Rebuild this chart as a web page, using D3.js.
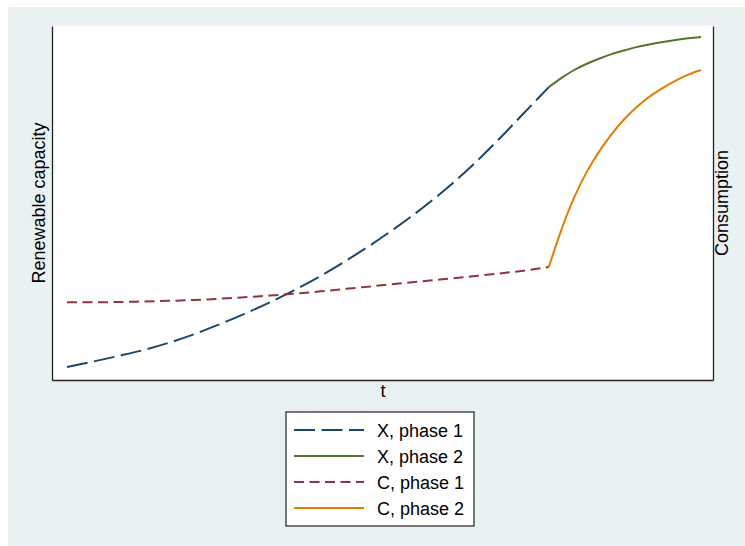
<!DOCTYPE html>
<html>
<head>
<meta charset="utf-8">
<script src="https://cdn.jsdelivr.net/npm/d3@7"></script>
<style>
  html, body { margin: 0; padding: 0; background: #ffffff; }
  svg { display: block; font-family: "Liberation Sans", Arial, Helvetica, sans-serif; }
</style>
</head>
<body>
<svg id="chart" width="745" height="546"></svg>
<script>
// ---- Data ----
const tPhase1 = [0, 4, 8, 12, 16, 20, 24, 28, 32, 36, 40, 44, 48, 52, 56, 60, 64, 68, 72, 76];
const xPhase1 = [0, 1.6, 3.3, 5.1, 7.3, 9.9, 12.9, 16.1, 19.6, 23.4, 27.6, 32.2, 37.1, 42.4, 48.1, 54.3, 61.2, 68.8, 76.8, 84.8];
const cPhase1 = [19.6, 19.6, 19.68, 19.84, 20.04, 20.32, 20.68, 21.12, 21.64, 22.24, 22.92, 23.68, 24.44, 25.2, 25.96, 26.72, 27.5, 28.3, 29.2, 30.3];

const tPhase2 = [76, 78, 80, 82, 84, 86, 88, 90, 92, 94, 96, 98, 100];
const xPhase2 = [84.8, 87.6, 90.0, 91.9, 93.5, 94.9, 96.0, 97.0, 97.8, 98.5, 99.1, 99.6, 100];
const cPhase2 = [30.3, 41.7, 51.4, 59.2, 65.5, 70.8, 75.3, 79.0, 82.1, 84.6, 86.8, 88.6, 90.0];

const seriesNames = ["X, phase 1", "X, phase 2", "C, phase 1", "C, phase 2"];
const xTitle = "t";
const yLeftTitle = "Renewable capacity";
const yRightTitle = "Consumption";

// ---- Layout ----
const W = 745, H = 546;
const plot = { left: 52, right: 713, top: 26, bottom: 380 };
const padX = { l: 15, r: 12 };
const padY = { t: 11, b: 13 };

const svg = d3.select("#chart");

// Graph region background
svg.append("rect").attr("x", 8).attr("y", 7).attr("width", W - 8).attr("height", H - 7)
  .attr("fill", "#eaf1f3");

// Plot region
svg.append("rect").attr("x", plot.left).attr("y", plot.top)
  .attr("width", plot.right - plot.left).attr("height", plot.bottom - plot.top)
  .attr("fill", "#ffffff");

// Scales
const x = d3.scaleLinear().domain([0, 100]).range([plot.left + padX.l, plot.right - padX.r]);
const yL = d3.scaleLinear().domain([0, 100]).range([plot.bottom - padY.b, plot.top + padY.t]);
const yR = d3.scaleLinear().domain([0, 100]).range([plot.bottom - padY.b, plot.top + padY.t]);

// Axis lines (no ticks / labels, like the reference)
const yFull = d3.scaleLinear().range([plot.bottom, plot.top]);
const xFull = d3.scaleLinear().range([plot.left, plot.right]);

svg.append("g").attr("transform", `translate(${plot.left},0)`)
  .call(d3.axisLeft(yFull).tickValues([]).tickSizeOuter(0))
  .select(".domain").attr("stroke", "#222").attr("stroke-width", 1.3);
svg.append("g").attr("transform", `translate(${plot.right},0)`)
  .call(d3.axisRight(yFull).tickValues([]).tickSizeOuter(0))
  .select(".domain").attr("stroke", "#222").attr("stroke-width", 1.3);
svg.append("g").attr("transform", `translate(0,${plot.bottom})`)
  .call(d3.axisBottom(xFull).tickValues([]).tickSizeOuter(0))
  .select(".domain").attr("stroke", "#222").attr("stroke-width", 1.3);

// Series
const styles = [
  { color: "#1a476f", dash: "21,6.5", t: tPhase1, v: xPhase1, y: yL },
  { color: "#55752f", dash: null,     t: tPhase2, v: xPhase2, y: yL },
  { color: "#90353b", dash: "10,5.5", t: tPhase1, v: cPhase1, y: yR },
  { color: "#e37e00", dash: null,     t: tPhase2, v: cPhase2, y: yR }
];

styles.forEach(s => {
  const pts = s.t.map((t, i) => [t, s.v[i]]);
  const line = d3.line().x(d => x(d[0])).y(d => s.y(d[1])).curve(d3.curveMonotoneX);
  svg.append("path").datum(pts)
    .attr("d", line)
    .attr("fill", "none")
    .attr("stroke", s.color)
    .attr("stroke-width", 2)
    .attr("stroke-linejoin", "round")
    .attr("stroke-dasharray", s.dash);
});

// Axis titles
svg.append("text").attr("x", (plot.left + plot.right) / 2 + 0.5).attr("y", 397)
  .attr("text-anchor", "middle").attr("font-size", 18).attr("fill", "#000").text(xTitle);
svg.append("text").attr("transform", `translate(45,${(plot.top + plot.bottom) / 2}) rotate(-90)`)
  .attr("text-anchor", "middle").attr("font-size", 18).attr("fill", "#000").text(yLeftTitle);
svg.append("text").attr("transform", `translate(728,${(plot.top + plot.bottom) / 2}) rotate(-90)`)
  .attr("text-anchor", "middle").attr("font-size", 18).attr("fill", "#000").text(yRightTitle);

// Legend
const leg = svg.append("g");
leg.append("rect").attr("x", 286).attr("y", 412).attr("width", 188).attr("height", 114)
  .attr("fill", "#ffffff").attr("stroke", "#222").attr("stroke-width", 1.2);
const rowY = d3.scalePoint().domain(seriesNames).range([430, 508]);
seriesNames.forEach((name, i) => {
  const yy = rowY(name);
  leg.append("line").attr("x1", 294).attr("x2", 364).attr("y1", yy).attr("y2", yy)
    .attr("stroke", styles[i].color).attr("stroke-width", 2)
    .attr("stroke-dasharray", styles[i].dash);
  leg.append("text").attr("x", 377).attr("y", yy + 6.5)
    .attr("font-size", 18).attr("fill", "#000").text(name);
});
</script>
</body>
</html>
